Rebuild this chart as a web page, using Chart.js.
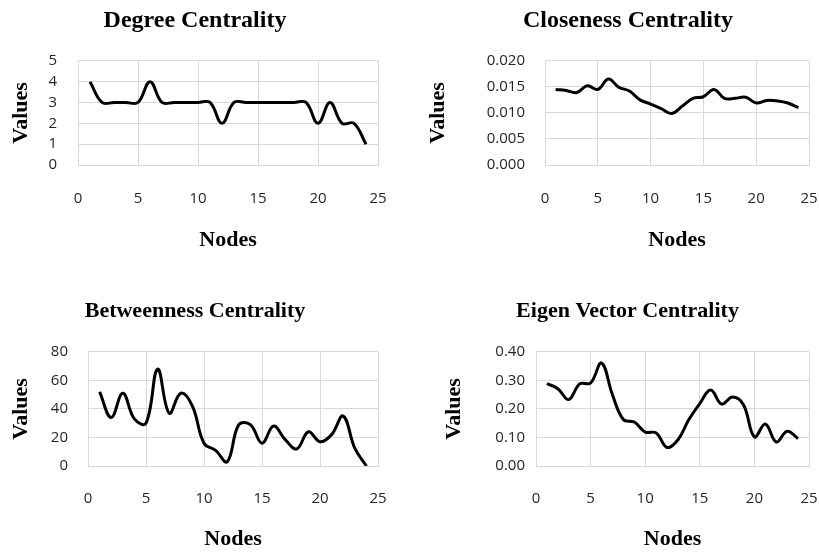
<!DOCTYPE html>
<html>
<head>
<meta charset="utf-8">
<script src="https://cdn.jsdelivr.net/npm/chart.js@4"></script>
<style>
    body { margin: 0; background: #ffffff; }
    #quadro { position: relative; width: 819px; height: 552px; }
    .caixa { position: absolute; width: 410px; height: 276px; }
</style>
</head>
<body>
<div id="quadro">
    <div class="caixa" style="left:0px;top:0px"><canvas id="chartDegree" width="410" height="276"></canvas></div>
    <div class="caixa" style="left:410px;top:0px"><canvas id="chartCloseness" width="409" height="276"></canvas></div>
    <div class="caixa" style="left:0px;top:276px"><canvas id="chartBetweenness" width="410" height="276"></canvas></div>
    <div class="caixa" style="left:410px;top:276px"><canvas id="chartEigen" width="409" height="276"></canvas></div>
</div>
<script>

// nodes on the x axis
var nodes = [1, 2, 3, 4, 5, 6, 7, 8, 9, 10, 11, 12, 13, 14, 15, 16, 17, 18, 19, 20, 21, 22, 23, 24];

// values, one list per centrality
var degreeValues = [4, 3, 3, 3, 3, 4, 3, 3, 3, 3, 3, 2, 3, 3, 3, 3, 3, 3, 3, 2, 3, 2, 2, 1];
var closenessValues = [0.0145, 0.0143, 0.0139, 0.0152, 0.0145, 0.0165, 0.0149, 0.0142, 0.0125, 0.0117, 0.0108, 0.0099,
    0.0113, 0.0128, 0.0131, 0.0145, 0.0128, 0.0128, 0.0130, 0.0119, 0.0124, 0.0123, 0.0119, 0.0110];
var betweennessValues = [52, 34, 51, 33, 30, 68, 37, 51, 42, 16, 11, 3, 29, 29, 16, 28, 18.5, 12, 24, 17, 22, 35, 12.5, 0];
var eigenValues = [0.289, 0.271, 0.233, 0.288, 0.291, 0.361, 0.250, 0.163, 0.154, 0.119, 0.116, 0.065,
    0.092, 0.163, 0.219, 0.266, 0.217, 0.242, 0.215, 0.102, 0.147, 0.084, 0.122, 0.096];

// tick labels
var xTicks = [0, 5, 10, 15, 20, 25];
var degreeTicks = [0, 1, 2, 3, 4, 5];
var closenessTicks = [0, 0.005, 0.010, 0.015, 0.020];
var betweennessTicks = [0, 20, 40, 60, 80];
var eigenTicks = [0, 0.10, 0.20, 0.30, 0.40];

var titleFont = "'Liberation Serif', 'Times New Roman', serif";
var tickFont = "'Open Sans', 'Liberation Sans', sans-serif";
var gridColor = "#d9d9d9";

// builds a config for one of the four small charts
function makeConfig(title, values, yTicks, decimals, box) {
    var points = [];
    for (var i = 0; i < nodes.length; i++) {
        points.push({ x: nodes[i], y: values[i] });
    }
    return {
        type: "line",
        data: {
            datasets: [
                {
                    label: title,
                    data: points,
                    borderColor: "#000000",
                    borderWidth: 3,
                    pointRadius: 0,
                    fill: false,
                    tension: 0.4
                }
            ]
        },
        options: {
            responsive: false,
            animation: false,
            layout: {
                padding: { left: box.padL, right: box.padR, top: 0, bottom: 0 }
            },
            plugins: {
                legend: { display: false },
                tooltip: { enabled: false },
                title: {
                    display: true,
                    text: title,
                    color: "#000000",
                    font: { family: titleFont, size: box.titleSize, weight: "bold" },
                    padding: { top: box.titleTop, bottom: box.titleBottom }
                }
            },
            scales: {
                x: {
                    type: "linear",
                    min: xTicks[0],
                    max: xTicks[xTicks.length - 1],
                    grid: { color: gridColor, drawTicks: false },
                    border: { color: gridColor },
                    ticks: {
                        stepSize: xTicks[1] - xTicks[0],
                        autoSkip: false,
                        color: "#262626",
                        padding: box.xTickPad,
                        maxRotation: 0,
                        font: { family: tickFont, size: 15 }
                    },
                    title: {
                        display: true,
                        text: "Nodes",
                        color: "#000000",
                        font: { family: titleFont, size: 22, weight: "bold" },
                        padding: { top: 0, bottom: box.nodesPad }
                    },
                    afterFit: function (scale) {
                        scale.height = box.xHeight;
                        scale.paddingLeft = 0;
                        scale.paddingRight = 0;
                    }
                },
                y: {
                    min: yTicks[0],
                    max: yTicks[yTicks.length - 1],
                    grid: { color: gridColor, drawTicks: false },
                    border: { color: gridColor },
                    ticks: {
                        stepSize: yTicks[1] - yTicks[0],
                        autoSkip: false,
                        color: "#262626",
                        padding: box.yTickPad,
                        font: { family: tickFont, size: 15 },
                        callback: function (value) {
                            return Number(value).toFixed(decimals);
                        }
                    },
                    title: {
                        display: true,
                        text: "Values",
                        color: "#000000",
                        font: { family: titleFont, size: 22, weight: "bold" },
                        padding: { top: box.valuesPad, bottom: 0 }
                    },
                    afterFit: function (scale) {
                        scale.width = box.yWidth;
                        scale.paddingTop = 0;
                        scale.paddingBottom = 0;
                    }
                }
            }
        }
    };
}

// sizes of each panel, so the plot areas land where they are in the picture
var boxDegree = { padL: 12, padR: 32, yWidth: 66, xHeight: 111, titleSize: 24, titleTop: 6, titleBottom: 26,
    xTickPad: 25, yTickPad: 21, nodesPad: 22, valuesPad: -4 };
var boxCloseness = { padL: 37, padR: 10, yWidth: 98, xHeight: 111, titleSize: 24, titleTop: 6, titleBottom: 26,
    xTickPad: 25, yTickPad: 20, nodesPad: 22, valuesPad: -22 };
var boxBetweenness = { padL: 12, padR: 32, yWidth: 76, xHeight: 86, titleSize: 22, titleTop: 22, titleBottom: 27.5,
    xTickPad: 24, yTickPad: 20, nodesPad: -1, valuesPad: -4 };
var boxEigen = { padL: 36, padR: 10, yWidth: 90, xHeight: 86, titleSize: 22, titleTop: 22, titleBottom: 27.5,
    xTickPad: 24, yTickPad: 11, nodesPad: -1, valuesPad: -5 };

var chartDegree = new Chart(document.getElementById("chartDegree"),
    makeConfig("Degree Centrality", degreeValues, degreeTicks, 0, boxDegree));
var chartCloseness = new Chart(document.getElementById("chartCloseness"),
    makeConfig("Closeness Centrality", closenessValues, closenessTicks, 3, boxCloseness));
var chartBetweenness = new Chart(document.getElementById("chartBetweenness"),
    makeConfig("Betweenness Centrality", betweennessValues, betweennessTicks, 0, boxBetweenness));
var chartEigen = new Chart(document.getElementById("chartEigen"),
    makeConfig("Eigen Vector Centrality", eigenValues, eigenTicks, 2, boxEigen));

</script>
</body>
</html>
